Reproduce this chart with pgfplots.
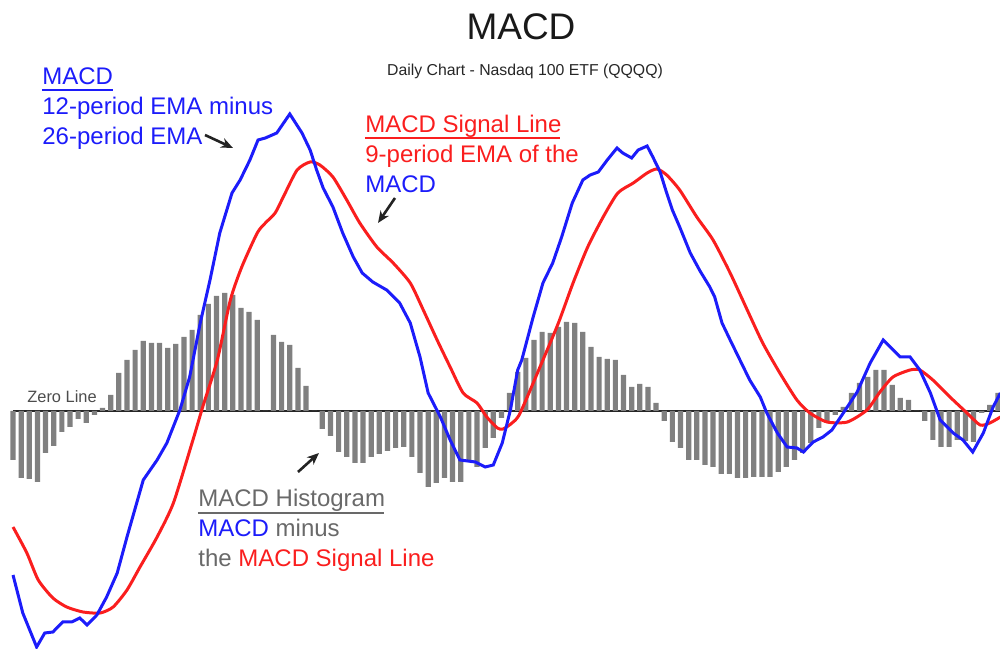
\documentclass[border=0pt]{standalone}
\usepackage{pgfplots}
\usepackage{pgfplotstable}
\pgfplotsset{compat=1.18}
\usepackage{fontspec}
\setmainfont{Liberation Sans}
\usetikzlibrary{arrows.meta}

\definecolor{macdblue}{RGB}{28,28,250}
\definecolor{sigred}{RGB}{250,30,30}
\definecolor{histgray}{RGB}{128,128,128}
\definecolor{txtgray}{RGB}{105,105,105}
\definecolor{arrowblk}{RGB}{35,35,35}

% MACD histogram, one bar per day
\pgfplotstableread{
day hist
0 -0.49
1 -0.67
2 -0.68
3 -0.71
4 -0.42
5 -0.35
6 -0.21
7 -0.16
8 -0.08
9 -0.12
10 -0.04
11 0.03
12 0.16
13 0.38
14 0.51
15 0.61
16 0.70
17 0.68
18 0.68
19 0.63
20 0.67
21 0.74
22 0.81
23 0.96
24 1.07
25 1.15
26 1.18
27 1.16
28 1.03
29 0.99
30 0.91
31 0
32 0.76
33 0.69
34 0.66
35 0.43
36 0.25
37 0
38 -0.18
39 -0.25
40 -0.41
41 -0.46
42 -0.52
43 -0.52
44 -0.46
45 -0.43
46 -0.40
47 -0.37
48 -0.36
49 -0.46
50 -0.62
51 -0.76
52 -0.72
53 -0.67
54 -0.71
55 -0.71
56 -0.50
57 -0.56
58 -0.37
59 -0.27
60 -0.07
61 0.18
62 0.39
63 0.53
64 0.71
65 0.79
66 0.78
67 0.84
68 0.89
69 0.88
70 0.79
71 0.64
72 0.54
73 0.52
74 0.51
75 0.36
76 0.24
77 0.27
78 0.24
79 0.08
80 -0.10
81 -0.31
82 -0.37
83 -0.49
84 -0.49
85 -0.54
86 -0.56
87 -0.63
88 -0.63
89 -0.67
90 -0.67
91 -0.66
92 -0.66
93 -0.66
94 -0.61
95 -0.56
96 -0.49
97 -0.42
98 -0.32
99 -0.17
100 -0.12
101 -0.04
102 0.04
103 0.18
104 0.28
105 0.34
106 0.41
107 0.41
108 0.26
109 0.13
110 0.11
111 0
112 -0.10
113 -0.29
114 -0.36
115 -0.36
116 -0.29
117 -0.30
118 -0.31
119 -0.02
120 0.06
121 0.18
}\histdata

% MACD line (12 EMA - 26 EMA)
\pgfplotstableread{
day macd
0 -1.64
1.2 -2.02
2.9 -2.36
3.9 -2.22
4.9 -2.21
6.1 -2.11
7.2 -2.11
8.2 -2.07
9.1 -2.14
10.3 -2.04
11.5 -1.86
12.8 -1.62
14.0 -1.26
16.0 -0.69
17.7 -0.49
18.9 -0.32
20.5 0.01
21.7 0.34
23.0 0.88
24.2 1.31
25.4 1.78
26.9 2.18
27.9 2.31
29.1 2.51
30.1 2.71
31.0 2.73
32.4 2.78
34.0 2.97
35.5 2.78
36.5 2.61
37.3 2.41
38.1 2.23
39.3 2.04
40.5 1.78
41.8 1.54
42.9 1.38
44.2 1.29
45.9 1.21
47.5 1.08
48.8 0.88
50.0 0.54
51.0 0.18
52.5 -0.06
53.7 -0.29
54.9 -0.49
56.8 -0.51
58.0 -0.56
59.0 -0.54
60.1 -0.32
61.1 0.01
62.0 0.41
62.5 0.51
63.9 0.94
65.1 1.28
66.3 1.48
67.4 1.74
68.7 2.08
70.0 2.31
70.9 2.36
71.9 2.39
73.0 2.51
74.2 2.63
74.9 2.58
76.0 2.53
76.8 2.61
77.9 2.65
78.6 2.54
79.5 2.39
80.3 2.18
81.0 2.01
81.9 1.84
83.2 1.58
84.4 1.40
85.6 1.24
86.2 1.14
87.1 0.88
88.1 0.71
89.3 0.51
90.5 0.31
91.8 0.14
92.6 -0.02
93.9 -0.22
95.1 -0.36
96.3 -0.37
97.1 -0.41
98.3 -0.31
99.5 -0.26
100.6 -0.19
102.0 -0.02
103.7 0.19
105.3 0.48
106.9 0.71
109.0 0.54
110.2 0.54
111.4 0.41
112.7 0.18
113.9 -0.09
115.5 -0.22
116.7 -0.29
117.9 -0.41
119.2 -0.22
120.4 0.04
121.3 0.18
}\macddata

% signal line (9 EMA of MACD)
\pgfplotstableread{
day signal
0 -1.16
1.7 -1.42
3.1 -1.69
4.9 -1.87
6.6 -1.96
8.6 -2.01
10.7 -2.02
12.3 -1.96
14.0 -1.79
15.6 -1.56
17.7 -1.26
19.7 -0.92
22.1 -0.29
23.3 0.04
25.1 0.51
26.7 1.11
28.1 1.44
30.0 1.78
31.0 1.88
32.2 1.98
33.2 2.14
34.9 2.41
36.5 2.49
37.7 2.46
39.3 2.34
41.0 2.11
42.6 1.88
44.7 1.64
46.7 1.48
48.8 1.28
50.4 1.01
52.1 0.71
53.7 0.44
55.3 0.18
57.0 0.08
58.2 -0.06
59.5 -0.17
60.2 -0.18
61.3 -0.12
62.3 -0.02
65.1 0.51
67.0 0.88
68.8 1.28
70.6 1.64
72.5 1.94
74.3 2.18
76.2 2.28
77.9 2.38
79.1 2.42
80.3 2.36
81.9 2.21
84.0 1.94
86.0 1.71
88.1 1.38
90.2 1.01
92.1 0.68
94.2 0.38
96.3 0.11
97.9 -0.02
100.0 -0.11
102.5 -0.11
104.9 0.01
106.5 0.19
108.1 0.34
110.2 0.41
111.4 0.41
113.0 0.31
115.1 0.14
117.2 -0.02
118.8 -0.14
120.0 -0.12
121.3 -0.06
}\signaldata

\begin{document}
\begin{tikzpicture}
\begin{axis}[
    scale only axis,
    width=500bp, height=324.5bp,
    xmin=-1.6, xmax=121.25,
    ymin=-2.38, ymax=4.11,
    hide axis,
    clip=false,
]
\coordinate (tl) at (rel axis cs:0,1);
\coordinate (br) at (rel axis cs:1,0);
% zero line
\draw[black!85, line width=1.2bp] (axis cs:0,0) -- (axis cs:121.25,0);
\addplot[ybar, bar width=2.6bp, fill=histgray, draw=none] table[x=day, y=hist] {\histdata};
\addplot[sigred, line width=1.5bp, no marks, smooth, tension=0.4] table[x=day, y=signal] {\signaldata};
\addplot[macdblue, line width=1.5bp, no marks] table[x=day, y=macd] {\macddata};
\end{axis}

% annotations, in pixel units from the top left corner
\begin{scope}[shift={(tl)}, x=0.5bp, y=-0.5bp]
  \tikzset{lbl/.style={anchor=base west, inner sep=0pt, font=\fontsize{12bp}{14bp}\selectfont}}
  \node[anchor=base, inner sep=0pt, font=\fontsize{18.5bp}{20bp}\selectfont, text=black!90] at (521,40) {MACD};
  \node[anchor=base, inner sep=0pt, font=\fontsize{7.9bp}{9bp}\selectfont, text=black!85] at (525,76) {Daily Chart - Nasdaq 100 ETF (QQQQ)};

  \node[lbl, text=macdblue] at (42,85) {MACD};
  \draw[macdblue, line width=1bp] (42,90) -- (113,90);
  \node[lbl, text=macdblue] at (42,115) {12-period EMA minus};
  \node[lbl, text=macdblue] at (42,145) {26-period EMA};
  \draw[arrowblk, line width=1.3bp, -{Stealth[length=6bp, width=5bp]}] (205,135) -- (233,148);

  \node[lbl, text=sigred] at (365,133) {MACD Signal Line};
  \draw[sigred, line width=1bp] (365,138) -- (560,138);
  \node[lbl, text=sigred] at (365,163) {9-period EMA of the};
  \node[lbl, text=macdblue] at (365,193) {MACD};
  \draw[arrowblk, line width=1.3bp, -{Stealth[length=6bp, width=5bp]}] (395,198) -- (378,223);

  \node[lbl, text=txtgray] at (198,507) {MACD Histogram};
  \draw[txtgray, line width=1bp] (198,513) -- (384,513);
  \node[lbl, text=txtgray] at (198,537) {{\color{macdblue}MACD} minus};
  \node[lbl, text=txtgray] at (198,567) {the {\color{sigred}MACD Signal Line}};
  \draw[arrowblk, line width=1.3bp, -{Stealth[length=6bp, width=5bp]}] (298,472) -- (319,453);

  \node[anchor=base west, inner sep=0pt, font=\fontsize{8.2bp}{9bp}\selectfont, text=black!70] at (27,403) {Zero Line};
\end{scope}

\pgfresetboundingbox
\path[use as bounding box] (tl) rectangle (br);
\end{tikzpicture}
\end{document}
